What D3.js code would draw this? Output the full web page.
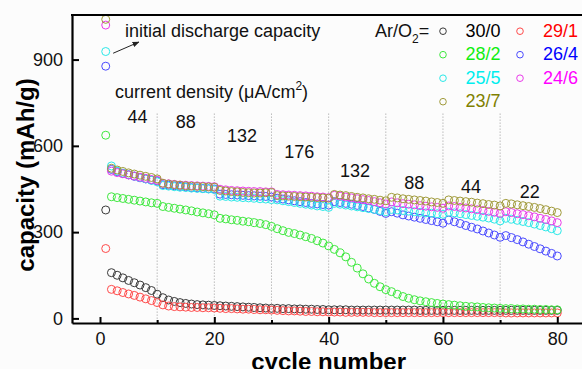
<!DOCTYPE html>
<html>
<head>
<meta charset="utf-8">
<script src="https://cdn.jsdelivr.net/npm/d3@7"></script>
<style>
  html, body { margin: 0; padding: 0; background: #fcfcfc; }
  svg { display: block; font-family: "Liberation Sans", Arial, sans-serif; }
</style>
</head>
<body>
<div id="chart"></div>
<script>
// cycle index 1..80
const cycles = d3.range(1, 81);

const s30_0 = [377,
  159, 150, 141, 132, 124, 116, 107, 97, 84,
  72, 64, 59, 55, 52, 50, 48, 47, 46, 45,
  44, 43, 42, 41, 40, 39, 38, 37, 36, 35,
  35, 34, 34, 33, 33, 32, 32, 31, 31, 30,
  30, 30, 30, 29, 29, 29, 29, 29, 29, 29,
  29, 29, 29, 29, 29, 28, 28, 28, 28, 28,
  28, 28, 28, 28, 28, 28, 28, 28, 28, 28,
  28, 28, 28, 28, 28, 28, 28, 28, 28, 28];

const s29_1 = [243,
  101, 96, 90, 85, 80, 74, 68, 62, 55,
  47, 43, 41, 40, 39, 38, 38, 37, 37, 36,
  35, 34, 34, 33, 32, 32, 31, 30, 30, 29,
  28, 27, 26, 26, 25, 24, 24, 23, 23, 22,
  22, 22, 21, 21, 21, 21, 21, 20, 20, 20,
  20, 20, 20, 20, 20, 20, 20, 20, 20, 20,
  20, 20, 20, 20, 20, 20, 20, 20, 20, 20,
  19, 19, 19, 19, 19, 19, 19, 19, 19, 19];

const s28_2 = [637,
  423, 420, 417, 414, 411, 408, 405, 402, 400,
  389, 386, 383, 380, 377, 374, 370, 367, 364, 360,
  348, 346, 343, 341, 338, 336, 333, 330, 326, 320,
  312, 305, 299, 295, 290, 284, 278, 270, 262, 252,
  240, 228, 214, 195, 175, 155, 137, 122, 110, 100,
  93, 84, 76, 70, 65, 61, 58, 55, 52, 50,
  48, 46, 44, 42, 41, 40, 38, 37, 36, 35,
  34, 34, 33, 33, 32, 32, 31, 31, 30, 30];

const s26_4 = [877,
  518, 510, 504, 499, 494, 489, 485, 481, 478,
  465, 463, 461, 459, 457, 455, 454, 452, 451, 450,
  432, 431, 430, 429, 428, 427, 426, 425, 424, 422,
  418, 415, 412, 409, 406, 403, 400, 398, 396, 394,
  406, 403, 400, 397, 393, 389, 384, 379, 372, 365,
  371, 366, 360, 356, 352, 348, 344, 340, 336, 331,
  342, 336, 330, 323, 317, 311, 304, 297, 290, 282,
  288, 281, 274, 266, 258, 250, 242, 234, 226, 217];

const s25_5 = [928,
  530, 512, 505, 500, 495, 490, 485, 480, 475,
  462, 460, 458, 456, 455, 453, 452, 451, 450, 448,
  425, 424, 422, 421, 420, 419, 418, 416, 415, 413,
  412, 409, 406, 403, 400, 397, 394, 391, 389, 386,
  400, 397, 394, 391, 388, 385, 382, 379, 375, 371,
  379, 377, 375, 373, 371, 369, 367, 366, 364, 362,
  369, 367, 364, 361, 358, 355, 352, 349, 345, 339,
  348, 345, 341, 337, 333, 328, 323, 318, 312, 305];

const s24_6 = [1020,
  512, 507, 503, 499, 495, 491, 487, 483, 480,
  470, 468, 466, 464, 463, 462, 461, 460, 459, 458,
  449, 447, 445, 444, 443, 442, 441, 441, 440, 440,
  431, 430, 429, 428, 427, 426, 425, 423, 422, 420,
  428, 425, 422, 419, 416, 413, 410, 406, 402, 398,
  405, 402, 399, 397, 395, 392, 390, 388, 386, 383,
  391, 389, 386, 384, 381, 378, 375, 372, 369, 365,
  371, 368, 364, 361, 357, 353, 348, 344, 339, 333];

const s23_7 = [1040,
  522, 516, 511, 506, 502, 498, 494, 490, 485,
  470, 467, 465, 463, 461, 460, 459, 458, 457, 456,
  445, 443, 441, 440, 438, 437, 436, 436, 437, 438,
  427, 426, 425, 424, 423, 422, 421, 420, 419, 418,
  431, 429, 427, 424, 421, 419, 416, 414, 411, 409,
  421, 419, 416, 414, 412, 410, 408, 405, 403, 400,
  412, 410, 408, 406, 404, 401, 399, 396, 394, 391,
  400, 398, 395, 392, 389, 386, 382, 378, 373, 368];

const seriesNames = ['30/0', '29/1', '28/2', '26/4', '25/5', '24/6', '23/7'];
const seriesValues = [s30_0, s29_1, s28_2, s26_4, s25_5, s24_6, s23_7];
const markerColors = ['#3a3a3a', '#ff4a4a', '#3ee83e', '#4a4aff', '#2ae8e8', '#ea3aea', '#a09a3a'];
const textColors = ['#000000', '#ff0000', '#11ee11', '#0000ff', '#00eeee', '#ff00ff', '#808000'];

const xTicks = [0, 20, 40, 60, 80];
const xMinorTicks = [10, 30, 50, 70];
const yTicks = [0, 300, 600, 900];
const stepCycles = [10, 20, 30, 40, 50, 60, 70];
const densityLabels = ['44', '88', '132', '176', '132', '88', '44', '22'];

const width = 582, height = 369;

const svg = d3.select('#chart')
  .append('svg')
  .attr('width', width)
  .attr('height', height);

const x = d3.scaleLinear().domain([-4.9, 85.2]).range([72, 587]);
const y = d3.scaleLinear().domain([-16, 1055]).range([323, 15]);

// dotted separators between current density steps
svg.append('g')
  .selectAll('line')
  .data(stepCycles)
  .join('line')
    .attr('x1', d => x(d)).attr('x2', d => x(d))
    .attr('y1', y(712)).attr('y2', y.range()[0])
    .attr('stroke', '#9a9a9a')
    .attr('stroke-width', 1)
    .attr('stroke-dasharray', '1,2');

// data markers
seriesValues.forEach((vals, i) => {
  svg.append('g')
    .selectAll('circle')
    .data(vals)
    .join('circle')
      .attr('cx', (d, j) => x(cycles[j]))
      .attr('cy', d => y(d))
      .attr('r', 4)
      .attr('fill', 'none')
      .attr('stroke', markerColors[i])
      .attr('stroke-width', 1);
});

// axes
svg.append('g')
  .attr('transform', `translate(0,${y.range()[0]})`)
  .call(d3.axisBottom(x).tickValues(xTicks).tickSizeInner(-6).tickSizeOuter(0).tickPadding(9));

svg.append('g')
  .attr('transform', `translate(0,${y.range()[0]})`)
  .call(d3.axisBottom(x).tickValues(xMinorTicks).tickSizeInner(-3).tickSizeOuter(0).tickFormat(''))
  .call(g => g.select('.domain').remove());

svg.append('g')
  .attr('transform', `translate(${x.range()[0]},0)`)
  .call(d3.axisLeft(y).tickValues(yTicks).tickSizeInner(-7).tickSizeOuter(0).tickPadding(9));

svg.selectAll('.domain').attr('stroke', '#000').attr('stroke-width', 2.2);
svg.selectAll('.tick line').attr('stroke', '#000').attr('stroke-width', 2);
svg.selectAll('.tick text').attr('font-size', 18).attr('fill', '#111')
  .attr('font-family', '"Liberation Sans", Arial, sans-serif');

// top frame line
svg.append('line')
  .attr('x1', x.range()[0] - 1).attr('x2', width)
  .attr('y1', y.range()[1]).attr('y2', y.range()[1])
  .attr('stroke', '#000').attr('stroke-width', 2);

// axis titles
svg.append('text')
  .attr('x', x(40)).attr('y', 369.5)
  .attr('text-anchor', 'middle')
  .attr('font-size', 24).attr('font-weight', 'bold')
  .text('cycle number');

svg.append('text')
  .attr('transform', 'translate(34,175) rotate(-90)')
  .attr('text-anchor', 'middle')
  .attr('font-size', 24).attr('font-weight', 'bold')
  .text('capacity (mAh/g)');

// annotations
const ann = svg.append('g').attr('font-size', 18).attr('fill', '#111');

ann.append('text')
  .attr('x', x(4.38)).attr('y', y(978))
  .text('initial discharge capacity');

svg.append('defs').append('marker')
  .attr('id', 'arrow')
  .attr('viewBox', '0 0 10 10')
  .attr('refX', 9).attr('refY', 5)
  .attr('markerWidth', 7).attr('markerHeight', 7)
  .attr('orient', 'auto')
  .append('path')
  .attr('d', 'M0,1L10,5L0,9z')
  .attr('fill', '#222');

svg.append('line')
  .attr('x1', x(2.3)).attr('y1', y(922))
  .attr('x2', x(6.8)).attr('y2', y(961))
  .attr('stroke', '#222').attr('stroke-width', 1)
  .attr('marker-end', 'url(#arrow)');

const cd = ann.append('text')
  .attr('x', x(2.62)).attr('y', y(766));
cd.append('tspan').text('current density (');
cd.append('tspan').text('μ');
cd.append('tspan').text('A/cm');
cd.append('tspan').attr('dy', -8).attr('font-size', 12).text('2');
cd.append('tspan').attr('dy', 8).text(')');

const labelPos = [[6.57, 679], [15.0, 661], [24.85, 614], [34.85, 557], [44.6, 490], [55.0, 449], [64.9, 437], [75.2, 420]];
ann.selectAll('text.dens')
  .data(densityLabels)
  .join('text')
    .attr('class', 'dens')
    .attr('x', (d, i) => x(labelPos[i][0]))
    .attr('y', (d, i) => y(labelPos[i][1]))
    .attr('text-anchor', 'middle')
    .text(d => d);

// legend
const leg = svg.append('g').attr('font-size', 18);
const ar = leg.append('text').attr('x', 375).attr('y', 36.7).attr('fill', '#111');
ar.append('tspan').text('Ar/O');
ar.append('tspan').attr('dy', 6).attr('font-size', 12).text('2');
ar.append('tspan').attr('dy', -6).text('=');

seriesNames.forEach((name, i) => {
  const col = i % 2, row = Math.floor(i / 2);
  const by = 36.7 + row * 23.5;
  leg.append('circle')
    .attr('cx', col ? 520 : 443).attr('cy', by - 5.5)
    .attr('r', 3.3)
    .attr('fill', 'none')
    .attr('stroke', markerColors[i])
    .attr('stroke-width', 1);
  leg.append('text')
    .attr('x', col ? 543 : 465.5).attr('y', by)
    .attr('fill', textColors[i])
    .text(name);
});
</script>
</body>
</html>
